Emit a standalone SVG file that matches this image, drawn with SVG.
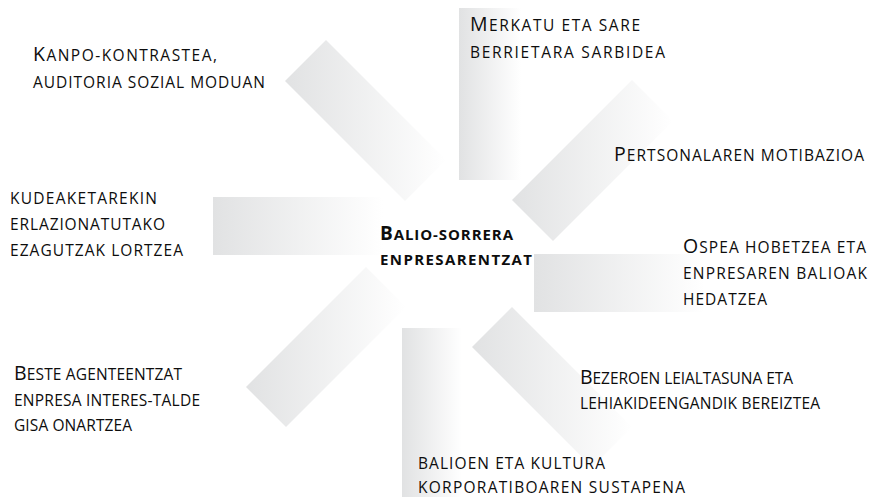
<svg xmlns="http://www.w3.org/2000/svg" width="871" height="497" viewBox="0 0 871 497">
<defs>
<linearGradient id="g" x1="0" y1="0" x2="1" y2="0">
<stop offset="0" stop-color="#e1e2e3"/>
<stop offset="1" stop-color="#ffffff"/>
</linearGradient>
</defs>
<style>
.ray{fill:url(#g);stroke:none}
.lbl{font-family:"Open Sans","Liberation Sans",sans-serif;font-size:15.5px;fill:#0d0d0d}
.ctr{font-family:"Open Sans","Liberation Sans",sans-serif;font-size:15px;font-weight:700;fill:#0d0d0d}
.cap{font-size:19.5px}
.ctr .cap{font-size:19px}
</style>
<rect width="871" height="497" fill="#fff"/>
<g id="connectors">
<rect class="ray" x="459" y="8" width="62" height="172"/>
<rect class="ray" x="213" y="197" width="170" height="58"/>
<rect class="ray" x="534" y="254" width="170" height="58"/>
<rect class="ray" x="402" y="328" width="60" height="169"/>
<polygon class="ray" points="326,40 446,160 405,201 285,81"/>
<polygon class="ray" points="632,80 673,121 553,241 512,200"/>
<polygon class="ray" points="366,267 406,307 286,427 246,387"/>
<polygon class="ray" points="512,307 632,427 592,467 472,347"/>
</g>
<g id="center">
<text class="ctr" x="380" y="240" textLength="133" lengthAdjust="spacing"><tspan class="cap">B</tspan>ALIO-SORRERA</text>
<text class="ctr" x="380" y="265" textLength="152" lengthAdjust="spacing">ENPRESARENTZAT</text>
</g>
<g id="node-kanpo">
<text class="lbl" x="33" y="61" textLength="184" lengthAdjust="spacing"><tspan class="cap">K</tspan>ANPO-KONTRASTEA,</text>
<text class="lbl" x="33" y="88" textLength="232" lengthAdjust="spacing">AUDITORIA SOZIAL MODUAN</text>
</g>
<g id="node-merkatu">
<text class="lbl" x="470" y="31" textLength="170" lengthAdjust="spacing"><tspan class="cap">M</tspan>ERKATU ETA SARE</text>
<text class="lbl" x="470" y="58" textLength="195" lengthAdjust="spacing">BERRIETARA SARBIDEA</text>
</g>
<g id="node-pertsonalaren">
<text class="lbl" x="614" y="161" textLength="250" lengthAdjust="spacing"><tspan class="cap">P</tspan>ERTSONALAREN MOTIBAZIOA</text>
</g>
<g id="node-kudeaketa">
<text class="lbl" x="10" y="204" textLength="147" lengthAdjust="spacing">KUDEAKETAREKIN</text>
<text class="lbl" x="10" y="230" textLength="155" lengthAdjust="spacing">ERLAZIONATUTAKO</text>
<text class="lbl" x="10" y="256" textLength="173" lengthAdjust="spacing">EZAGUTZAK LORTZEA</text>
</g>
<g id="node-ospea">
<text class="lbl" x="683" y="253" textLength="183" lengthAdjust="spacing"><tspan class="cap">O</tspan>SPEA HOBETZEA ETA</text>
<text class="lbl" x="683" y="279" textLength="184" lengthAdjust="spacing">ENPRESAREN BALIOAK</text>
<text class="lbl" x="683" y="305" textLength="84" lengthAdjust="spacing">HEDATZEA</text>
</g>
<g id="node-beste">
<text class="lbl" x="14" y="380" textLength="168" lengthAdjust="spacing"><tspan class="cap">B</tspan>ESTE AGENTEENTZAT</text>
<text class="lbl" x="14" y="406" textLength="186" lengthAdjust="spacing">ENPRESA INTERES-TALDE</text>
<text class="lbl" x="14" y="431" textLength="118" lengthAdjust="spacing">GISA ONARTZEA</text>
</g>
<g id="node-bezeroen">
<text class="lbl" x="580" y="384" textLength="213" lengthAdjust="spacing"><tspan class="cap">B</tspan>EZEROEN LEIALTASUNA ETA</text>
<text class="lbl" x="580" y="409" textLength="240" lengthAdjust="spacing">LEHIAKIDEENGANDIK BEREIZTEA</text>
</g>
<g id="node-balioen">
<text class="lbl" x="418" y="469" textLength="187" lengthAdjust="spacing">BALIOEN ETA KULTURA</text>
<text class="lbl" x="418" y="493" textLength="267" lengthAdjust="spacing">KORPORATIBOAREN SUSTAPENA</text>
</g>
</svg>
